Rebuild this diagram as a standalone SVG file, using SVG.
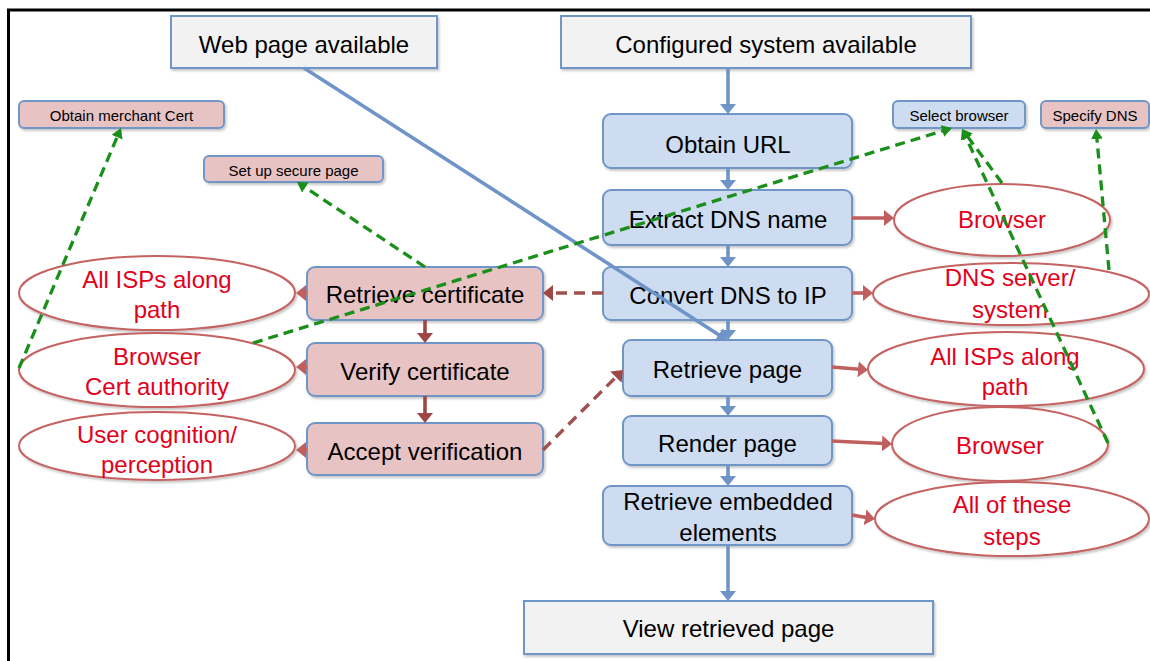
<svg xmlns="http://www.w3.org/2000/svg" width="1150" height="661" viewBox="0 0 1150 661">
  <style>
    .txt { font-family: "Liberation Sans", Arial, sans-serif; font-size: 24px; fill: #000; text-anchor: middle; }
    .small { font-size: 15px; }
    .red { fill: #e3001b; }
    .gray { fill: #f2f2f2; stroke: #7096c8; stroke-width: 2; }
    .blue { fill: #cddcf0; stroke: #7096c8; stroke-width: 2; }
    .pink { fill: #e8c3c3; stroke: #7096c8; stroke-width: 2; }
    .oval { fill: #fff; stroke: #c46462; stroke-width: 2; }
    .flow { fill: none; stroke: #6f94c8; stroke-width: 3.6; marker-end: url(#ah-blue); }
    .assign { fill: none; stroke: #c0605e; stroke-width: 3.6; marker-end: url(#ah-red); }
    .cert { fill: none; stroke: #9e4845; stroke-width: 3.6; marker-end: url(#ah-brown); }
    .cert-dash { fill: none; stroke: #a0504d; stroke-width: 3.4; stroke-dasharray: 11 7; marker-end: url(#ah-brown); }
    .prep { fill: none; stroke: #1a8f1a; stroke-width: 3.3; stroke-dasharray: 10 6; marker-end: url(#ah-green); }
    .frame { fill: none; stroke: #000; stroke-width: 3; }
  </style>
  <defs>
    <filter id="sh" x="-10%" y="-10%" width="125%" height="140%">
      <feDropShadow dx="1.5" dy="2" stdDeviation="1.2" flood-color="#000" flood-opacity="0.22"/>
    </filter>
    <marker id="ah-blue" viewBox="0 0 10 16" markerWidth="10" markerHeight="16" refX="7" refY="8" orient="auto" markerUnits="userSpaceOnUse">
      <path d="M0,0 L10,8 L0,16 z" fill="#6f94c8"/>
    </marker>
    <marker id="ah-red" viewBox="0 0 10 16" markerWidth="10" markerHeight="16" refX="7" refY="8" orient="auto" markerUnits="userSpaceOnUse">
      <path d="M0,0 L10,8 L0,16 z" fill="#c0605e"/>
    </marker>
    <marker id="ah-brown" viewBox="0 0 10 16" markerWidth="10" markerHeight="16" refX="7" refY="8" orient="auto" markerUnits="userSpaceOnUse">
      <path d="M0,0 L10,8 L0,16 z" fill="#9e4845"/>
    </marker>
    <marker id="ah-green" viewBox="0 0 10 12" markerWidth="10" markerHeight="12" refX="7" refY="6" orient="auto" markerUnits="userSpaceOnUse">
      <path d="M0,0 L10,6 L0,12 z" fill="#1a8f1a"/>
    </marker>
  </defs>

  <rect width="1150" height="661" fill="#fff"/>
  <!-- frame (top and left edges) -->
  <path class="frame" d="M8.5,661 V10 H1150"/>

  <!-- starting conditions -->
  <g id="web-page-available">
    <rect class="gray" x="171" y="16" width="266" height="52" filter="url(#sh)"/>
    <text class="txt" x="304" y="53">Web page available</text>
  </g>
  <g id="configured-system">
    <rect class="gray" x="561" y="16" width="410" height="52" filter="url(#sh)"/>
    <text class="txt" x="766" y="53">Configured system available</text>
  </g>

  <!-- main retrieval steps -->
  <g id="obtain-url">
    <rect class="blue" x="603" y="114" width="249" height="54" rx="8" filter="url(#sh)"/>
    <text class="txt" x="728" y="153">Obtain URL</text>
  </g>
  <g id="extract-dns">
    <rect class="blue" x="603" y="190" width="249" height="55" rx="8" filter="url(#sh)"/>
    <text class="txt" x="728" y="228">Extract DNS name</text>
  </g>
  <g id="convert-dns">
    <rect class="blue" x="603" y="267" width="249" height="53" rx="8" filter="url(#sh)"/>
    <text class="txt" x="728" y="304">Convert DNS to IP</text>
  </g>
  <g id="retrieve-page">
    <rect class="blue" x="623" y="340" width="209" height="56" rx="8" filter="url(#sh)"/>
    <text class="txt" x="727.5" y="378">Retrieve page</text>
  </g>
  <g id="render-page">
    <rect class="blue" x="623" y="416" width="209" height="49" rx="8" filter="url(#sh)"/>
    <text class="txt" x="727.5" y="452">Render page</text>
  </g>
  <g id="retrieve-embedded">
    <rect class="blue" x="603" y="486" width="249" height="59" rx="8" filter="url(#sh)"/>
    <text class="txt" x="728" y="510">Retrieve embedded</text>
    <text class="txt" x="728" y="541">elements</text>
  </g>
  <g id="view-page">
    <rect class="gray" x="524" y="601" width="409" height="53" filter="url(#sh)"/>
    <text class="txt" x="728.5" y="637">View retrieved page</text>
  </g>

  <!-- certificate steps -->
  <g id="retrieve-cert">
    <rect class="pink" x="307" y="267" width="236" height="53" rx="8" filter="url(#sh)"/>
    <text class="txt" x="425" y="303">Retrieve certificate</text>
  </g>
  <g id="verify-cert">
    <rect class="pink" x="307" y="343" width="236" height="53" rx="8" filter="url(#sh)"/>
    <text class="txt" x="425" y="380">Verify certificate</text>
  </g>
  <g id="accept-verification">
    <rect class="pink" x="307" y="423" width="236" height="52" rx="8" filter="url(#sh)"/>
    <text class="txt" x="425" y="460">Accept verification</text>
  </g>

  <!-- preparation tasks -->
  <g id="obtain-merchant-cert">
    <rect class="pink" x="19" y="101" width="205" height="27" rx="5" filter="url(#sh)"/>
    <text class="txt small" x="121.5" y="121">Obtain merchant Cert</text>
  </g>
  <g id="set-up-secure-page">
    <rect class="pink" x="204" y="156" width="179" height="26" rx="5" filter="url(#sh)"/>
    <text class="txt small" x="293.5" y="176">Set up secure page</text>
  </g>
  <g id="select-browser">
    <rect class="blue" x="893" y="101" width="132" height="27" rx="5" filter="url(#sh)"/>
    <text class="txt small" x="959" y="121">Select browser</text>
  </g>
  <g id="specify-dns">
    <rect class="pink" x="1041" y="101" width="108" height="27" rx="5" filter="url(#sh)"/>
    <text class="txt small" x="1095" y="121">Specify DNS</text>
  </g>

  <!-- responsible parties -->
  <g id="isps-left">
    <ellipse class="oval" cx="157" cy="293" rx="138" ry="37" filter="url(#sh)"/>
    <text class="txt red" x="157" y="288">All ISPs along</text>
    <text class="txt red" x="157" y="318">path</text>
  </g>
  <g id="browser-ca">
    <ellipse class="oval" cx="157" cy="370" rx="138" ry="37" filter="url(#sh)"/>
    <text class="txt red" x="157" y="365">Browser</text>
    <text class="txt red" x="157" y="395">Cert authority</text>
  </g>
  <g id="user-cognition">
    <ellipse class="oval" cx="157" cy="446" rx="138" ry="34" filter="url(#sh)"/>
    <text class="txt red" x="157" y="443">User cognition/</text>
    <text class="txt red" x="157" y="473">perception</text>
  </g>
  <g id="browser-extract">
    <ellipse class="oval" cx="1002" cy="220" rx="108" ry="36" filter="url(#sh)"/>
    <text class="txt red" x="1002" y="228">Browser</text>
  </g>
  <g id="dns-server">
    <ellipse class="oval" cx="1011" cy="294" rx="138" ry="31" filter="url(#sh)"/>
    <text class="txt red" x="1010" y="286">DNS server/</text>
    <text class="txt red" x="1010" y="318">system</text>
  </g>
  <g id="isps-right">
    <ellipse class="oval" cx="1006" cy="369" rx="138" ry="37" filter="url(#sh)"/>
    <text class="txt red" x="1005" y="365">All ISPs along</text>
    <text class="txt red" x="1005" y="395">path</text>
  </g>
  <g id="browser-render">
    <ellipse class="oval" cx="1000" cy="444" rx="108" ry="37" filter="url(#sh)"/>
    <text class="txt red" x="1000" y="454">Browser</text>
  </g>
  <g id="all-steps">
    <ellipse class="oval" cx="1012" cy="519" rx="137" ry="37" filter="url(#sh)"/>
    <text class="txt red" x="1012" y="513">All of these</text>
    <text class="txt red" x="1012" y="545">steps</text>
  </g>

  <g id="connectors">
    <!-- main flow -->
    <path class="flow" d="M728,68 V111"/>
    <path class="flow" d="M728,168 V187"/>
    <path class="flow" d="M728,245 V264"/>
    <path class="flow" d="M728,320 V337"/>
    <path class="flow" d="M728,396 V413"/>
    <path class="flow" d="M728,465 V483"/>
    <path class="flow" d="M728,545 V598"/>
    <path class="flow" d="M304,68 L724.5,338.4"/>

    <!-- step to responsible party -->
    <path class="assign" d="M852,218 H891"/>
    <path class="assign" d="M852,293 H870"/>
    <path class="assign" d="M832,367 L865,369.8"/>
    <path class="assign" d="M832,441 L889,443.8"/>
    <path class="assign" d="M852,515 L872,518.5"/>
    <path class="assign" d="M307,293 H299"/>
    <path class="assign" d="M307,367 H299"/>
    <path class="assign" d="M307,450 H299"/>

    <!-- certificate branch -->
    <path class="cert" d="M425,320 V340"/>
    <path class="cert" d="M425,396 V420"/>
    <path class="cert-dash" d="M603,293 H546"/>
    <path class="cert-dash" d="M543,450 L620.9,372.1"/>

    <!-- preparation dependencies -->
    <path class="prep" d="M253,343 L949.1,128.9"/>
    <path class="prep" d="M19,368 L119.8,130.8"/>
    <path class="prep" d="M425,267 L299.5,183.7"/>
    <path class="prep" d="M1002,183 L963.8,131.4"/>
    <path class="prep" d="M1108,443 L963.3,131.7"/>
    <path class="prep" d="M1109,270 L1096.3,132"/>
  </g>
</svg>
